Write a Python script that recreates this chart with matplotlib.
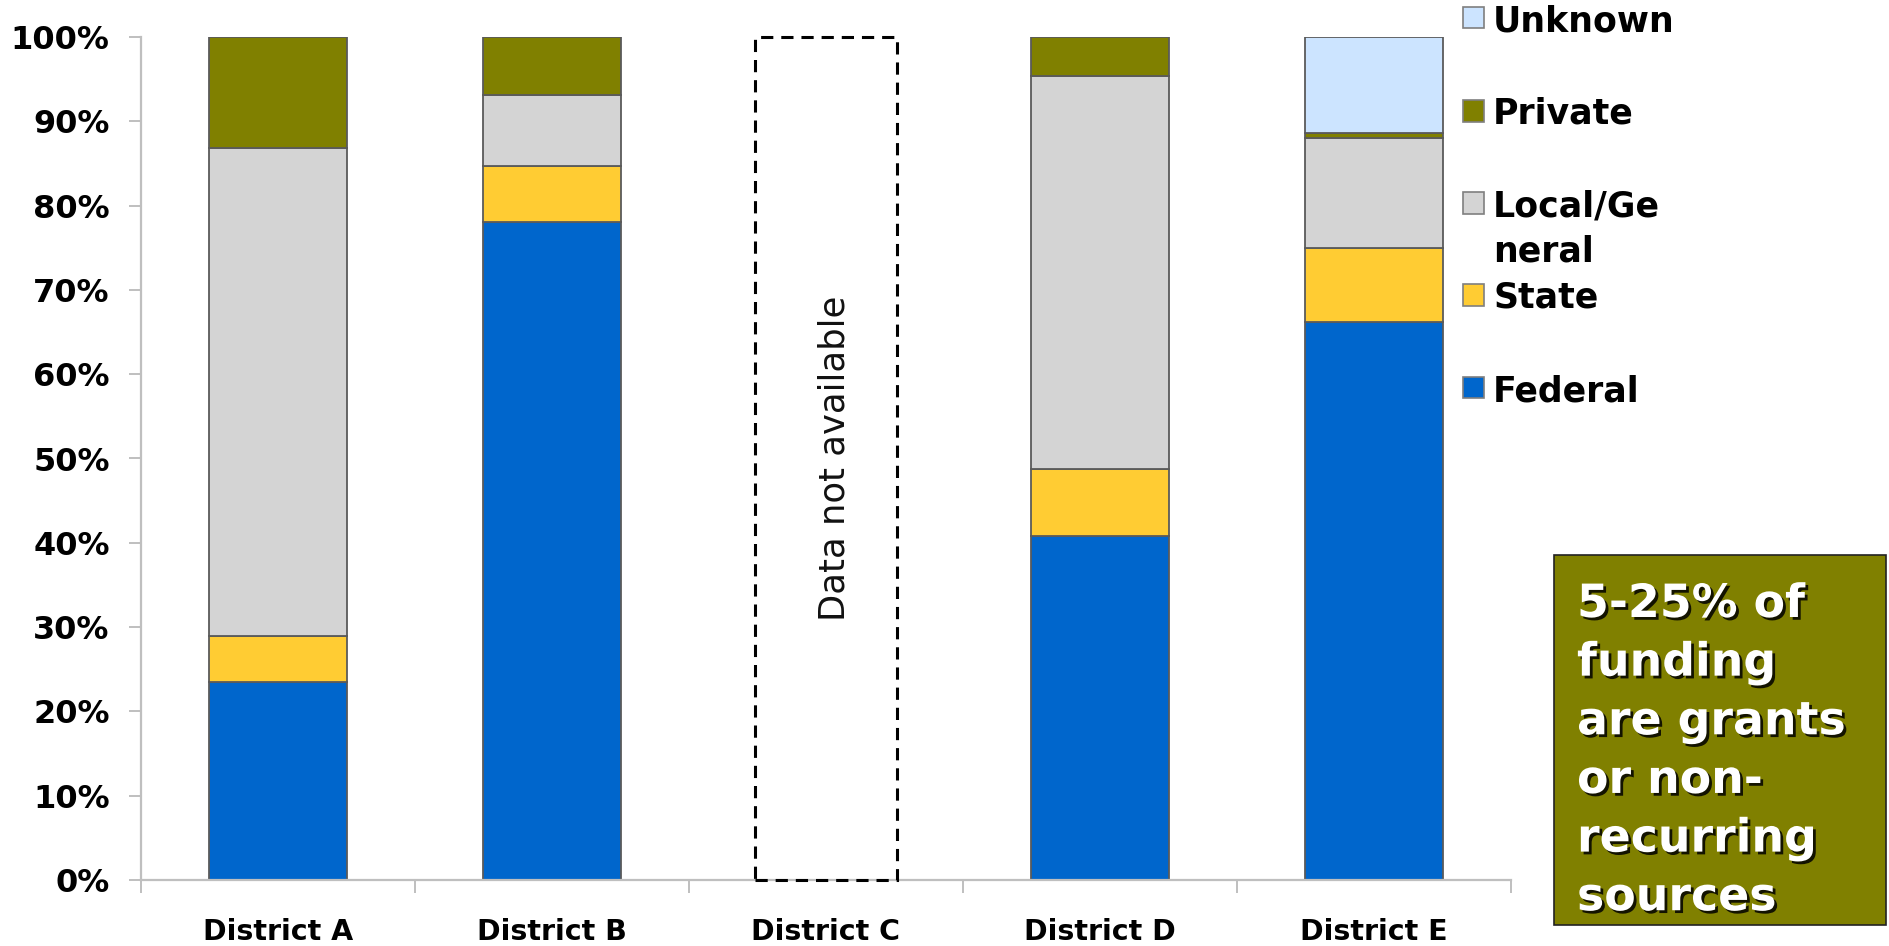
import matplotlib.pyplot as plt
import matplotlib.patheffects as pe
from matplotlib.patches import Rectangle
import numpy as np

# data, shares in percent (District C has no data)
districts = ['District A', 'District B', 'District C', 'District D', 'District E']
federal = [23.5, 78.1, np.nan, 40.8, 66.2]
state = [5.4, 6.6, np.nan, 7.9, 8.8]
local_general = [57.9, 8.4, np.nan, 46.7, 13.0]
private = [13.2, 6.9, np.nan, 4.6, 0.6]
unknown = [0.0, 0.0, np.nan, 0.0, 11.4]

series = [federal, state, local_general, private, unknown]
legend_labels = ['Federal', 'State', 'Local/Ge\nneral', 'Private', 'Unknown']
colors = ['#0066cc', '#ffcc33', '#d4d4d4', '#808000', '#cce4ff']
missing_note = 'Data not available'
box_note = '5-25% of\nfunding\nare grants\nor non-\nrecurring\nsources'

W, H = 1889, 946
plt.rcParams['font.family'] = ['DejaVu Sans']
fig = plt.figure(figsize=(W / 100, H / 100), dpi=100)


def px(x, y):
    # pixel position (from top-left) -> figure fraction
    return x / W, 1 - y / H


ax = fig.add_axes([141 / W, 1 - 880 / H, (1511 - 141) / W, (880 - 37) / H])

x = np.arange(len(districts))
bar_w = 0.504
bottom = np.zeros(len(districts))
for vals, col in zip(series, colors):
    v = np.array(vals, dtype=float)
    ok = np.isfinite(v) & (v > 0)
    ax.bar(x[ok], v[ok] / 100, bar_w, bottom=bottom[ok], color=col,
           edgecolor='#5a5a5a', linewidth=1.3)
    bottom[ok] += v[ok] / 100

# dashed placeholder for District C
ax.add_patch(Rectangle((2 - 0.259, 0), 0.518, 1.0, fill=False, edgecolor='black',
                       linestyle=(0, (4, 2.6)), linewidth=2.2, clip_on=False, zorder=3))
ax.text(2.03, 0.5, missing_note, rotation=90, ha='center', va='center',
        fontsize=25.5, color='#111111')

ax.set_xlim(-0.5, len(districts) - 0.5)
ax.set_ylim(0, 1)
ax.set_yticks(np.linspace(0, 1, 11))
ax.set_yticklabels([f'{int(round(t * 100))}%' for t in np.linspace(0, 1, 11)])
ax.set_xticks(x)
ax.set_xticklabels(districts)
ax.set_xticks(np.arange(-0.5, len(districts), 1.0), minor=True)

for s in ['top', 'right']:
    ax.spines[s].set_visible(False)
for s in ['left', 'bottom']:
    ax.spines[s].set_color('#bfbfbf')
    ax.spines[s].set_linewidth(1.6)

ax.tick_params(axis='y', direction='out', length=8.6, width=1.4, color='#bfbfbf',
               pad=14, labelsize=23)
ax.tick_params(axis='x', which='major', length=0, pad=27, labelsize=20.5)
ax.tick_params(axis='x', which='minor', direction='out', length=9.4, width=1.4,
               color='#bfbfbf')
for lab in ax.get_xticklabels() + ax.get_yticklabels():
    lab.set_fontweight('bold')

# legend, drawn by hand (top entry first)
legend_rows = [388, 295, 203, 111, 18]
for lab, col, yc in zip(legend_labels, colors, legend_rows):
    x0, y0 = px(1463, yc + 10.5)
    fig.patches.append(Rectangle((x0, y0), 21 / W, 21 / H, transform=fig.transFigure,
                                 facecolor=col, edgecolor='#7f7f7f', linewidth=1.2))
    tx, ty = px(1493, yc - 14)
    fig.text(tx, ty, lab, ha='left', va='top', fontsize=25, fontweight='bold',
             linespacing=1.42)

# callout box
bx, by = px(1554, 925)
fig.patches.append(Rectangle((bx, by), 332 / W, 370 / H, transform=fig.transFigure,
                             facecolor='#808000', edgecolor='#222222', linewidth=1.2))
tx, ty = px(1577, 582)
fig.text(tx, ty, box_note, ha='left', va='top', fontsize=33, fontweight='bold',
         color='white', linespacing=1.39,
         path_effects=[pe.withSimplePatchShadow(offset=(2, -2), shadow_rgbFace='black',
                                                alpha=0.85)])

fig.savefig('out.png', dpi=100)
